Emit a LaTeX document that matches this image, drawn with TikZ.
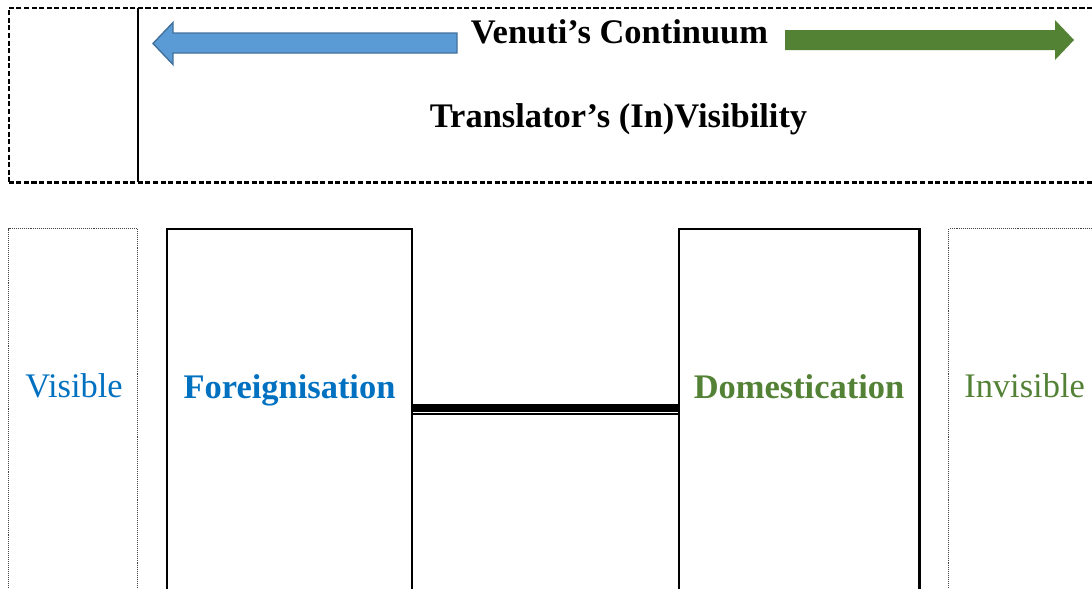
\documentclass[tikz,border=0pt]{standalone}
\usepackage{fontspec}
\setmainfont{Liberation Serif}
\usetikzlibrary{fit}
\definecolor{vblue}{HTML}{0070C0}
\definecolor{vgreen}{HTML}{538135}
\definecolor{arrblue}{HTML}{5B9BD5}
\definecolor{arrblueedge}{HTML}{41719C}
\definecolor{arrgreen}{HTML}{548235}
\definecolor{dotgray}{HTML}{444444}
\tikzset{
  dashbox/.style={draw=black, line width=1.7pt, dash pattern=on 3.6pt off 1.8pt},
  solidbox/.style={draw=black, line width=1.7pt, inner sep=0pt},
  dotbox/.style={draw=dotgray, line width=0.9pt, dash pattern=on 0.7pt off 0.7pt, inner sep=0pt},
  bigtext/.style={font=\fontsize{24.5}{29}\selectfont, inner sep=0pt, anchor=base},
}
\begin{document}
\begin{tikzpicture}[x=0.025cm,y=-0.025cm]
\useasboundingbox (0,0) rectangle (1092,588);
\clip (0,0) rectangle (1092,588);
% top box
\coordinate (t1) at (8.7,7.8);
\coordinate (t2) at (1120,182.3);
\node[dashbox, inner sep=0pt, fit=(t1)(t2)] (topbox) {};
\coordinate (d1) at (137.7,7.8);
\coordinate (d2) at (137.7,182.3);
\draw[line width=1.7pt] (d1) -- (d2);
% arrows
\filldraw[fill=arrblue, draw=arrblueedge, line width=1pt, line join=miter]
  (153,43.5) -- (173,22.5) -- (173,33) -- (457,33) -- (457,53) -- (173,53) -- (173,64.5) -- cycle;
\fill[arrgreen]
  (785,30) -- (1055,30) -- (1055,20) -- (1074,40) -- (1055,60) -- (1055,50) -- (785,50) -- cycle;
% titles
\node[bigtext, font=\fontsize{24.5}{29}\selectfont\bfseries] (title) at (619.5,43) {Venuti’s Continuum};
\node[bigtext, font=\fontsize{24.5}{29}\selectfont\bfseries] (subtitle) at (618.5,127) {Translator’s (In)Visibility};
% bottom boxes
\coordinate (v1) at (8.5,228.7);
\coordinate (v2) at (137.7,640);
\node[dotbox, fit=(v1)(v2)] (visbox) {};
\coordinate (f1) at (166.7,228.7);
\coordinate (f2) at (411.7,640);
\node[solidbox, fit=(f1)(f2)] (fore) {};
\coordinate (m1) at (679,228.7);
\coordinate (m2) at (919.5,640);
\node[solidbox, fit=(m1)(m2)] (dom) {};
\coordinate (i1) at (948.7,228.7);
\coordinate (i2) at (1120,640);
\node[dotbox, fit=(i1)(i2)] (invbox) {};
% labels
\node[bigtext, text=vblue] (vis) at (74,397) {Visible};
\node[bigtext, text=vblue, font=\fontsize{24.5}{29}\selectfont\bfseries] (foretext) at (289.5,398) {Foreignisation};
\node[bigtext, text=vgreen, font=\fontsize{24.5}{29}\selectfont\bfseries] (domtext) at (799,398) {Domestication};
\node[bigtext, text=vgreen, anchor=base west] (inv) at (964,397) {Invisible};
% double connector
\coordinate (ythick) at (0,407.7);
\coordinate (ythin) at (0,414.3);
\draw[line width=5.8pt] (fore.east |- ythick) -- (dom.west |- ythick);
\draw[line width=1.5pt] (fore.east |- ythin) -- (dom.west |- ythin);
\end{tikzpicture}
\end{document}
